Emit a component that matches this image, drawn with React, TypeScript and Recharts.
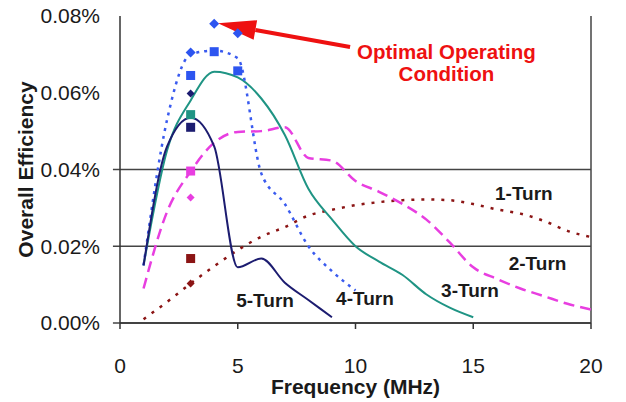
import React from 'react';
import {
  ComposedChart,
  Line,
  Scatter,
  XAxis,
  YAxis,
  ReferenceLine,
  ReferenceDot,
} from 'recharts';

// frequencies (MHz) and overall efficiency (%)
const freqAll = [1, 2, 3, 4, 5, 6, 7, 8, 9, 10, 11, 12, 13, 14, 15, 16, 17, 18, 19, 20];
const turn1 = [0.001, 0.0055, 0.0103, 0.0148, 0.019, 0.0225, 0.025, 0.028, 0.0295, 0.0307, 0.0315, 0.032, 0.0322, 0.032, 0.031, 0.0296, 0.0285, 0.0266, 0.024, 0.0224];
const turn2 = [0.009, 0.029, 0.0395, 0.047, 0.0498, 0.05, 0.051, 0.043, 0.0423, 0.037, 0.0342, 0.031, 0.027, 0.021, 0.0145, 0.0115, 0.009, 0.007, 0.005, 0.0035];
const turn3 = [0.015, 0.045, 0.058, 0.0655, 0.064, 0.0585, 0.049, 0.035, 0.027, 0.02, 0.016, 0.0125, 0.0075, 0.004, 0.0015];
const turn4 = [0.015, 0.053, 0.07, 0.071, 0.069, 0.039, 0.031, 0.02, 0.0135, 0.0085];
const turn5 = [0.015, 0.046, 0.0535, 0.046, 0.0145, 0.0168, 0.0105, 0.006, 0.0015];

// measured points
const markFreq = [3, 4, 5];
const blueDots = [0.0705, 0.078, 0.0755];
const blueSquares = [0.0645, 0.0707, 0.0657];
const navyDot = [0.0598];
const navySquare = [0.051];
const tealSquare = [0.0543];
const magentaSquare = [0.0396];
const magentaDot = [0.0327];
const redSquare = [0.0168];
const redDot = [0.0103];

const xTicks = [0, 5, 10, 15, 20];
const yTicks = [0, 0.02, 0.04, 0.06, 0.08];
const gridValues = [0, 0.02, 0.04];

const seriesLabels = [
  { text: '1-Turn', f: 17.15, v: 0.0338 },
  { text: '2-Turn', f: 17.73, v: 0.0156 },
  { text: '3-Turn', f: 14.86, v: 0.0085 },
  { text: '4-Turn', f: 10.4, v: 0.0064 },
  { text: '5-Turn', f: 6.16, v: 0.0059 },
];

const zip = (fs: number[], vs: number[]) => vs.map((v, i) => ({ f: fs[i], v }));

const FONT = '"Liberation Sans", Arial, sans-serif';

const square = (size: number, fill: string) => (p: any) => (
  <rect x={p.cx - size / 2} y={p.cy - size / 2} width={size} height={size} fill={fill} />
);

const diamond = (size: number, fill: string) => (p: any) => {
  const h = size / 2;
  return (
    <polygon
      points={`${p.cx},${p.cy - h} ${p.cx + h},${p.cy} ${p.cx},${p.cy + h} ${p.cx - h},${p.cy}`}
      fill={fill}
    />
  );
};

const arrowShape = (p: any) => {
  const { x1, y1, x2, y2 } = p;
  // arrow points from (x2,y2) tail to (x1,y1) tip
  const ang = Math.atan2(y1 - y2, x1 - x2);
  const len = 38;
  const wing = 10;
  const bx = x1 - len * Math.cos(ang);
  const by = y1 - len * Math.sin(ang);
  const nx = -Math.sin(ang);
  const ny = Math.cos(ang);
  return (
    <g>
      <line x1={x2} y1={y2} x2={bx} y2={by} stroke="#ee1111" strokeWidth={4} />
      <polygon
        points={`${x1},${y1} ${bx + nx * wing},${by + ny * wing} ${bx - nx * wing},${by - ny * wing}`}
        fill="#ee1111"
      />
    </g>
  );
};

export default function App() {
  const labelStyle = { fontFamily: FONT, fontWeight: 700, fontSize: 19, fill: '#1a1a1a' };
  return (
    <div style={{ position: 'absolute', left: 0, top: 0, background: '#fff' }}>
      <ComposedChart
        width={626}
        height={402}
        margin={{ top: 16, right: 35, left: 10, bottom: 0 }}
      >
        <XAxis
          dataKey="f"
          type="number"
          domain={[0, 20]}
          ticks={xTicks}
          allowDataOverflow
          height={79}
          tickSize={6}
          tickMargin={29}
          axisLine={{ stroke: '#333', strokeWidth: 1.5 }}
          tickLine={{ stroke: '#333', strokeWidth: 1.5 }}
          tick={{ fontFamily: FONT, fontSize: 21, fill: '#1a1a1a' }}
          label={{
            value: 'Frequency (MHz)',
            position: 'insideBottom',
            offset: 8,
            style: { fontFamily: FONT, fontSize: 21, fontWeight: 700, fill: '#1a1a1a' },
          }}
        />
        <YAxis
          dataKey="v"
          type="number"
          domain={[0, 0.08]}
          ticks={yTicks}
          width={110}
          tickSize={6}
          tickMargin={14}
          tickLine={false}
          axisLine={{ stroke: '#333', strokeWidth: 1.5 }}
          tick={{ fontFamily: FONT, fontSize: 21, fill: '#1a1a1a' }}
          tickFormatter={(v: number) => `${v.toFixed(2)}%`}
          label={{
            content: (p: any) => {
              const vb = p.viewBox;
              const cx = vb.x + 15;
              const cy = vb.y + vb.height / 2;
              return (
                <text
                  x={cx}
                  y={cy}
                  transform={`rotate(-90 ${cx} ${cy})`}
                  textAnchor="middle"
                  dominantBaseline="central"
                  style={{ fontFamily: FONT, fontSize: 21, fontWeight: 700, fill: '#1a1a1a' }}
                >
                  Overall Efficiency
                </text>
              );
            },
          }}
        />

        {gridValues.map((g) => (
          <ReferenceLine
            key={`grid-${g}`}
            segment={[{ x: -0.3, y: g }, { x: 20, y: g }]}
            ifOverflow="visible"
            stroke="#444"
            strokeWidth={1.5}
          />
        ))}
        <ReferenceLine x={20} stroke="#444" strokeWidth={1.5} />

        <Line data={zip(freqAll, turn1)} dataKey="v" type="monotone" stroke="#8b1414" strokeWidth={2.5} strokeDasharray="3 7" dot={false} isAnimationActive={false} />
        <Line data={zip(freqAll, turn2)} dataKey="v" type="monotone" stroke="#e83ee0" strokeWidth={2.5} strokeDasharray="11 6" dot={false} isAnimationActive={false} />
        <Line data={zip(freqAll, turn3)} dataKey="v" type="monotone" stroke="#1f9484" strokeWidth={2} dot={false} isAnimationActive={false} />
        <Line data={zip(freqAll, turn4)} dataKey="v" type="monotone" stroke="#3a5bef" strokeWidth={2.5} strokeDasharray="3 5" dot={false} isAnimationActive={false} />
        <Line data={zip(freqAll, turn5)} dataKey="v" type="monotone" stroke="#1c1c70" strokeWidth={2} dot={false} isAnimationActive={false} />

        <Scatter data={zip(markFreq, blueDots)} dataKey="v" shape={diamond(10, '#2d55f0')} isAnimationActive={false} />
        <Scatter data={zip(markFreq, blueSquares)} dataKey="v" shape={square(9, '#2d55f0')} isAnimationActive={false} />
        <Scatter data={zip(markFreq, navyDot)} dataKey="v" shape={diamond(8, '#1c1c70')} isAnimationActive={false} />
        <Scatter data={zip(markFreq, navySquare)} dataKey="v" shape={square(9, '#1c1c70')} isAnimationActive={false} />
        <Scatter data={zip(markFreq, tealSquare)} dataKey="v" shape={square(9, '#1f9484')} isAnimationActive={false} />
        <Scatter data={zip(markFreq, magentaSquare)} dataKey="v" shape={square(9, '#e83ee0')} isAnimationActive={false} />
        <Scatter data={zip(markFreq, magentaDot)} dataKey="v" shape={diamond(8, '#e83ee0')} isAnimationActive={false} />
        <Scatter data={zip(markFreq, redSquare)} dataKey="v" shape={square(9, '#8b1414')} isAnimationActive={false} />
        <Scatter data={zip(markFreq, redDot)} dataKey="v" shape={diamond(8, '#8b1414')} isAnimationActive={false} />

        <ReferenceLine
          segment={[{ x: 4.16, y: 0.0781 }, { x: 9.77, y: 0.0719 }]}
          ifOverflow="visible"
          shape={arrowShape}
        />
        <ReferenceDot
          x={13.86}
          y={0.0689}
          ifOverflow="visible"
          shape={(p: any) => (
            <g style={{ fontFamily: FONT, fontWeight: 700, fontSize: 20.5, fill: '#ee1111' }}>
              <text x={p.cx} y={p.cy} textAnchor="middle">Optimal Operating</text>
              <text x={p.cx} y={p.cy + 22} textAnchor="middle">Condition</text>
            </g>
          )}
        />

        {seriesLabels.map((s) => (
          <ReferenceDot
            key={s.text}
            x={s.f}
            y={s.v}
            ifOverflow="visible"
            shape={(p: any) => (
              <text x={p.cx} y={p.cy} textAnchor="middle" dominantBaseline="central" style={labelStyle}>
                {s.text}
              </text>
            )}
          />
        ))}
      </ComposedChart>
    </div>
  );
}
